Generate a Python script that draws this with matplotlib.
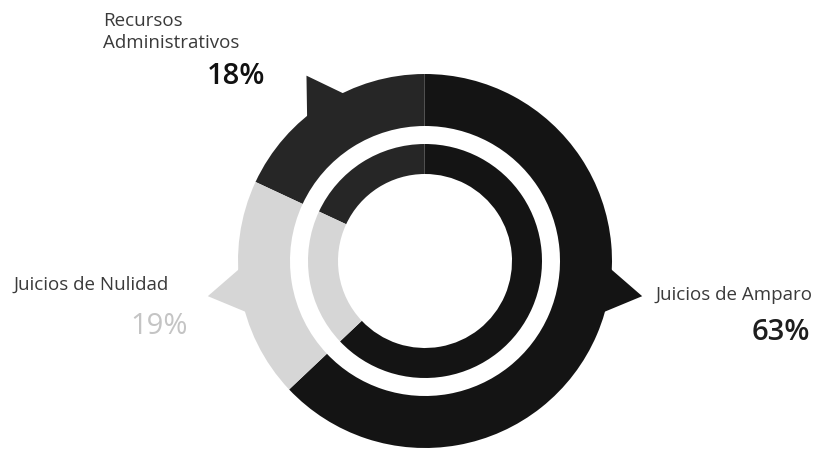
import numpy as np
import matplotlib.pyplot as plt
from matplotlib.patches import Polygon

labels = ['Recursos\nAdministrativos', 'Juicios de Amparo', 'Juicios de Nulidad']
pct_text = ['18%', '63%', '19%']
values = [18, 63, 19]
colors = ['#262626', '#141414', '#d6d6d6']
pct_colors = ['#111111', '#1e1e1e', '#c4c4c4']

plt.rcParams['font.family'] = ['Open Sans', 'DejaVu Sans']

fig = plt.figure(figsize=(8.19, 4.5), dpi=100)
ax = fig.add_axes([0, 0, 1, 1])

cx, cy = 425, 189
r_out, w_out = 187, 52
r_in, w_in = 117, 30
start = 155

ax.pie(values, colors=colors, startangle=start, counterclock=False,
       radius=r_out, center=(cx, cy), wedgeprops=dict(width=w_out, linewidth=0))
ax.pie(values, colors=colors, startangle=start, counterclock=False,
       radius=r_in, center=(cx, cy), wedgeprops=dict(width=w_in, linewidth=0))

# pointer triangles on the outer ring, aimed at each label
ends = start - np.cumsum(values) * 3.6
mids = ends + np.array(values) * 1.8
mids[1] += 14  # Amparo pointer sits higher than the middle of its arc
for a, col in zip(mids, colors):
    tip = np.deg2rad(a)
    b1, b2 = np.deg2rad(a - 8), np.deg2rad(a + 8)
    rb = r_out - 6
    pts = [(cx + 220 * np.cos(tip), cy + 220 * np.sin(tip)),
           (cx + rb * np.cos(b1), cy + rb * np.sin(b1)),
           (cx + rb * np.cos(b2), cy + rb * np.sin(b2))]
    ax.add_patch(Polygon(pts, closed=True, color=col, lw=0))

ax.set_xlim(0, 819)
ax.set_ylim(0, 450)
ax.set_aspect('equal')
ax.axis('off')

lab_kw = dict(fontsize=13.5, color='#3a3a3a', fontweight='normal')
ax.text(103, 418, labels[0], ha='left', va='center', linespacing=1.3, **lab_kw)
ax.text(265, 374, pct_text[0], ha='right', va='center', fontsize=21,
        fontweight='semibold', color=pct_colors[0])

ax.text(655, 155, labels[1], ha='left', va='center', **lab_kw)
ax.text(810, 118, pct_text[1], ha='right', va='center', fontsize=21,
        fontweight='semibold', color=pct_colors[1])

ax.text(13, 165, labels[2], ha='left', va='center', **lab_kw)
ax.text(188, 124, pct_text[2], ha='right', va='center', fontsize=21,
        fontweight='normal', color=pct_colors[2])

fig.savefig('out.png', dpi=100)
